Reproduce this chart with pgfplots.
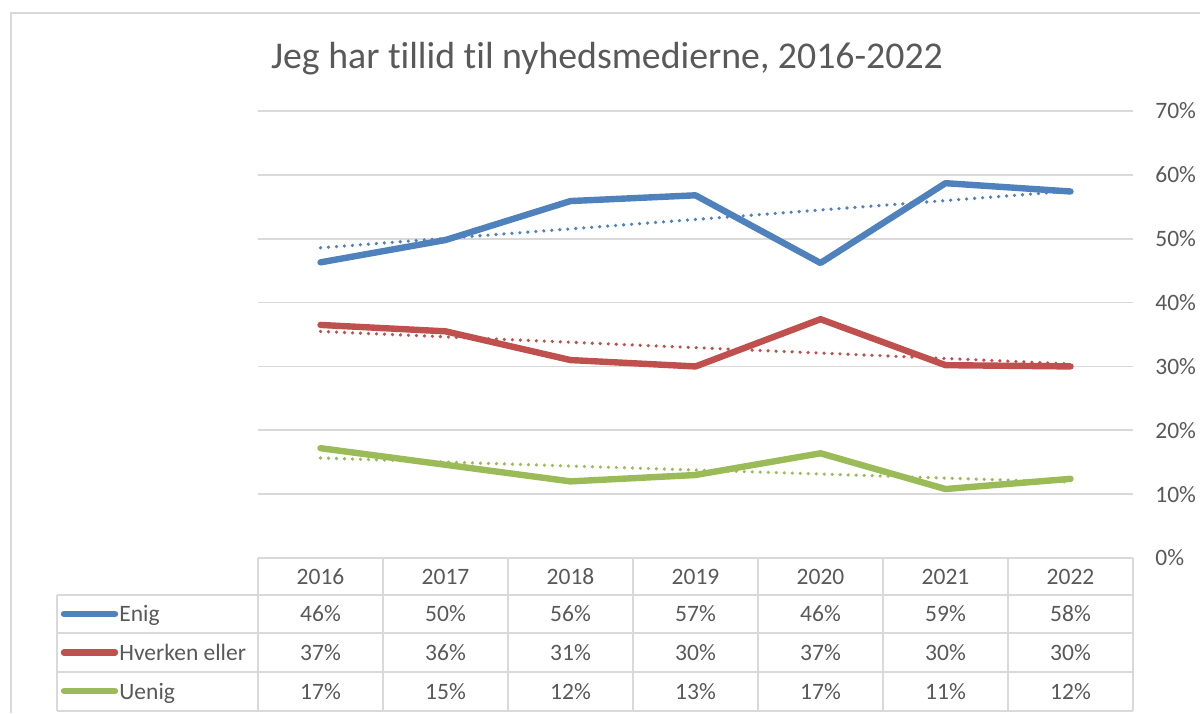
\documentclass[border=0pt]{standalone}
\usepackage{fontspec}
\setmainfont{Carlito}[Ligatures={NoCommon}]
\usepackage{pgfplots}
\pgfplotsset{compat=1.18}
\definecolor{cBlue}{HTML}{4F81BD}
\definecolor{cRed}{HTML}{C0504D}
\definecolor{cGreen}{HTML}{9BBB59}
\definecolor{cGrid}{HTML}{D9D9D9}
\definecolor{cText}{HTML}{595959}
\begin{document}
\begin{tikzpicture}
\begin{scope}[x=0.5pt,y=-0.5pt]
\useasboundingbox (0,0) rectangle (1200,713);
\fill[white] (0,0) rectangle (1200,713);
\draw[cGrid, line width=0.75pt] (11,713) -- (11,13) -- (1200,13);
\node[anchor=base, text=cText, font=\fontsize{18.9}{22}\selectfont, inner sep=0pt] at (607,68) {Jeg har tillid til nyhedsmedierne, 2016-2022};
\end{scope}
\begin{axis}[at={(129pt,-279pt)}, anchor=south west, scale only axis,
  width=437.5pt, height=223.5pt,
  xmin=-0.5, xmax=6.5, ymin=0, ymax=70,
  xtick=\empty, ytick={0,10,...,70},
  yticklabels={0\%,10\%,20\%,30\%,40\%,50\%,60\%,70\%},
  yticklabel pos=right, major tick length=0pt,
  ymajorgrids, grid style={cGrid, line width=0.8pt},
  axis line style={draw=none},
  yticklabel style={anchor=west, xshift=11pt, inner sep=0pt, text=cText, font=\fontsize{11.75}{14}\selectfont},
  clip=false]
\addplot[cBlue, line width=3.2pt, line join=round, line cap=round] coordinates {(0,46.3) (1,49.8) (2,55.9) (3,56.8) (4,46.2) (5,58.7) (6,57.4)};
\addplot[cRed, line width=3.2pt, line join=round, line cap=round] coordinates {(0,36.5) (1,35.5) (2,31.0) (3,30.0) (4,37.4) (5,30.2) (6,30.0)};
\addplot[cGreen, line width=3.2pt, line join=round, line cap=round] coordinates {(0,17.2) (1,14.6) (2,12.0) (3,13.0) (4,16.4) (5,10.8) (6,12.4)};
\addplot[cBlue, line width=1.8pt, line cap=round, dash pattern=on 0pt off 4pt] coordinates {(0,48.58) (6,57.45)};
\addplot[cRed, line width=1.8pt, line cap=round, dash pattern=on 0pt off 4pt] coordinates {(0,35.48) (6,30.40)};
\addplot[cGreen, line width=1.8pt, line cap=round, dash pattern=on 0pt off 4pt] coordinates {(0,15.66) (6,11.89)};
\end{axis}
\begin{scope}[x=0.5pt,y=-0.5pt]
% data table
\begin{scope}[cGrid, line width=0.8pt]
\draw (258,558) -- (1133,558);
\foreach \yy in {595,633,672,711} \draw (57,\yy) -- (1133,\yy);
\draw (57,595) -- (57,711);
\foreach \xx in {258,383,508,633,758,883,1008,1133} \draw (\xx,558) -- (\xx,711);
\end{scope}
\begin{scope}[every node/.style={anchor=base, text=cText, font=\fontsize{11.75}{14}\selectfont, inner sep=0pt}]
\foreach \t [count=\i from 0] in {2016,2017,2018,2019,2020,2021,2022}
  \node at (320.5+125*\i,584) {\t};
\foreach \t [count=\i from 0] in {46,50,56,57,46,59,58}
  \node at (320.5+125*\i,621.5) {\t\%};
\foreach \t [count=\i from 0] in {37,36,31,30,37,30,30}
  \node at (320.5+125*\i,660) {\t\%};
\foreach \t [count=\i from 0] in {17,15,12,13,17,11,12}
  \node at (320.5+125*\i,699) {\t\%};
\node[anchor=base west] at (119,621.5) {Enig};
\node[anchor=base west] at (119,660) {Hverken eller};
\node[anchor=base west] at (119,699) {Uenig};
\end{scope}
\draw[cBlue, line width=3.2pt, line cap=round] (64,614) -- (115,614);
\draw[cRed, line width=3.2pt, line cap=round] (64,652.5) -- (115,652.5);
\draw[cGreen, line width=3.2pt, line cap=round] (64,691) -- (115,691);
\end{scope}
\end{tikzpicture}
\end{document}
